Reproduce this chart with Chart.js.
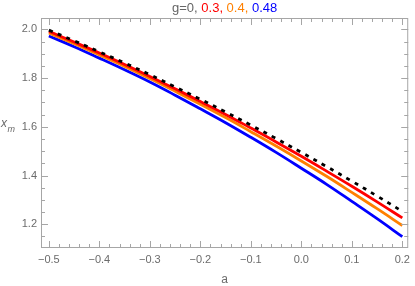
<!DOCTYPE html>
<html>
<head>
<meta charset="utf-8">
<script src="https://cdn.jsdelivr.net/npm/chart.js@4/dist/chart.umd.min.js"></script>
<style>
  html, body { margin: 0; padding: 0; background: #fff; }
  #wrap { width: 415px; height: 286px; }
</style>
</head>
<body>
<div id="wrap"><canvas id="xmChart"></canvas></div>
<script>
// values
const aValues = [-0.5, -0.45, -0.4, -0.35, -0.3, -0.25, -0.2, -0.15, -0.1, -0.05, 0.0, 0.05, 0.1, 0.15, 0.2];
const xmG0    = [1.997, 1.953, 1.908, 1.862, 1.814, 1.764, 1.713, 1.661, 1.607, 1.552, 1.495, 1.437, 1.377, 1.316, 1.253];
const xmG03   = [1.992, 1.948, 1.903, 1.856, 1.807, 1.756, 1.704, 1.651, 1.595, 1.538, 1.479, 1.418, 1.356, 1.292, 1.226];
const xmG04   = [1.985, 1.941, 1.895, 1.848, 1.798, 1.746, 1.693, 1.638, 1.580, 1.521, 1.460, 1.397, 1.331, 1.264, 1.195];
const xmG048  = [1.973, 1.929, 1.882, 1.834, 1.784, 1.730, 1.674, 1.617, 1.557, 1.495, 1.430, 1.364, 1.294, 1.223, 1.149];

const xTicks = [-0.5, -0.4, -0.3, -0.2, -0.1, 0.0, 0.1, 0.2];
const yTicks = [1.2, 1.4, 1.6, 1.8, 2.0];

const frameColor = '#a6a6a6';
const labelColor = '#6b6b6b';

function pts(ys) {
    return aValues.map((a, i) => ({ x: a, y: ys[i] }));
}

function fmt(v) {
    return v.toFixed(1).replace('-', '\u2212');
}

// Mathematica-like frame: ticks inside on all four sides, plus title and y label
const framePlugin = {
    id: 'frame',
    afterDraw(chart) {
        const ctx = chart.ctx;
        const area = chart.chartArea;
        const xs = chart.scales.x;
        const ys = chart.scales.y;
        ctx.save();
        ctx.strokeStyle = frameColor;
        ctx.lineWidth = 1;
        ctx.strokeRect(area.left + 0.5, area.top + 0.5, area.right - area.left - 1, area.bottom - area.top - 1);

        ctx.beginPath();
        for (let k = -25; k <= 10; k++) {
            const v = k * 0.02;
            if (v < xs.min || v > xs.max) continue;
            const px = Math.round(xs.getPixelForValue(v)) + 0.5;
            const len = (k % 5 === 0) ? 7 : 4;
            ctx.moveTo(px, area.bottom);
            ctx.lineTo(px, area.bottom - len);
            ctx.moveTo(px, area.top);
            ctx.lineTo(px, area.top + len);
        }
        for (let k = 22; k <= 41; k++) {
            const v = k * 0.05;
            if (v < ys.min || v > ys.max) continue;
            const py = Math.round(ys.getPixelForValue(v)) + 0.5;
            const len = (k % 4 === 0) ? 7 : 4;
            ctx.moveTo(area.left, py);
            ctx.lineTo(area.left + len, py);
            ctx.moveTo(area.right, py);
            ctx.lineTo(area.right - len, py);
        }
        ctx.stroke();

        // title in several colours
        const parts = [
            ['g=0, ', '#666666'],
            ['0.3, ', '#ff0000'],
            ['0.4, ', '#ff8000'],
            ['0.48', '#0000ff']
        ];
        ctx.font = '13px "Liberation Sans", Arial, sans-serif';
        ctx.textBaseline = 'middle';
        ctx.textAlign = 'left';
        let total = 0;
        parts.forEach(p => { total += ctx.measureText(p[0]).width; });
        let tx = (area.left + area.right) / 2 - total / 2;
        parts.forEach(p => {
            ctx.fillStyle = p[1];
            ctx.fillText(p[0], tx, 8);
            tx += ctx.measureText(p[0]).width;
        });

        // y axis label x_m
        ctx.fillStyle = labelColor;
        ctx.textBaseline = 'alphabetic';
        ctx.font = 'italic 12px "Liberation Sans", Arial, sans-serif';
        ctx.fillText('x', 1, 127);
        ctx.font = 'italic 9px "Liberation Sans", Arial, sans-serif';
        ctx.fillText('m', 7.5, 132);

        // x axis label
        ctx.textBaseline = 'middle';
        ctx.font = '12px "Liberation Sans", Arial, sans-serif';
        ctx.textAlign = 'center';
        ctx.fillText('a', (area.left + area.right) / 2, 280);
        ctx.restore();
    }
};

const ctx = document.getElementById('xmChart').getContext('2d');
new Chart(ctx, {
    type: 'line',
    data: {
        datasets: [
            { label: 'g=0', data: pts(xmG0), borderColor: '#000000', borderWidth: 2.8, borderDash: [4, 5.5], order: 0 },
            { label: 'g=0.3', data: pts(xmG03), borderColor: '#ff0000', borderWidth: 2.8, order: 1 },
            { label: 'g=0.4', data: pts(xmG04), borderColor: '#ff8000', borderWidth: 2.8, order: 2 },
            { label: 'g=0.48', data: pts(xmG048), borderColor: '#0000ff', borderWidth: 2.8, order: 3 }
        ]
    },
    options: {
        responsive: true,
        maintainAspectRatio: false,
        animation: false,
        parsing: false,
        elements: {
            point: { radius: 0 },
            line: { tension: 0.4, fill: false, borderCapStyle: 'butt' }
        },
        layout: { padding: { top: 18, right: 2, left: 0, bottom: 0 } },
        plugins: {
            legend: { display: false },
            tooltip: { enabled: false }
        },
        scales: {
            x: {
                type: 'linear',
                min: -0.5156,
                max: 0.2117,
                afterBuildTicks: scale => { scale.ticks = xTicks.map(v => ({ value: v })); },
                afterFit: scale => { scale.height = 38; },
                grid: { display: false, drawTicks: false },
                border: { display: false },
                ticks: {
                    color: labelColor,
                    font: { size: 11, family: '"Liberation Sans", Arial, sans-serif' },
                    padding: 5,
                    maxRotation: 0,
                    callback: v => fmt(v)
                }
            },
            y: {
                type: 'linear',
                min: 1.1026,
                max: 2.0467,
                afterBuildTicks: scale => { scale.ticks = yTicks.map(v => ({ value: v })); },
                afterFit: scale => { scale.width = 41; },
                grid: { display: false, drawTicks: false },
                border: { display: false },
                ticks: {
                    color: labelColor,
                    font: { size: 11, family: '"Liberation Sans", Arial, sans-serif' },
                    padding: 4,
                    callback: v => fmt(v)
                }
            }
        }
    },
    plugins: [framePlugin]
});
</script>
</body>
</html>
